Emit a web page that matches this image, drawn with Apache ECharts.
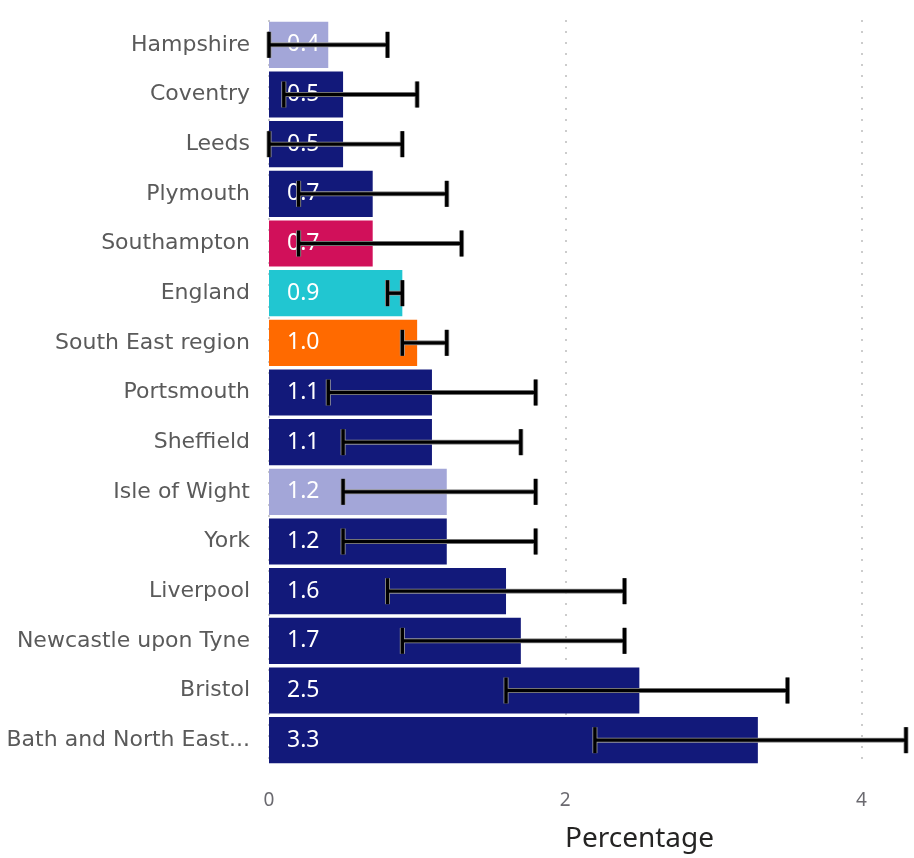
<!DOCTYPE html>
<html><head><meta charset="utf-8">
<script src="https://cdn.jsdelivr.net/npm/echarts@6/dist/echarts.min.js"></script>
<style>html,body{margin:0;padding:0;background:#fff}#c{width:914px;height:858px}</style>
</head><body><div id="c"></div>
<script>
const categories = ["Hampshire","Coventry","Leeds","Plymouth","Southampton","England","South East region","Portsmouth","Sheffield","Isle of Wight","York","Liverpool","Newcastle upon Tyne","Bristol","Bath and North East..."];
const values = [0.4,0.5,0.5,0.7,0.7,0.9,1.0,1.1,1.1,1.2,1.2,1.6,1.7,2.5,3.3];
const lower  = [0.0,0.1,0.0,0.2,0.2,0.8,0.9,0.4,0.5,0.5,0.5,0.8,0.9,1.6,2.2];
const upper  = [0.8,1.0,0.9,1.2,1.3,0.9,1.2,1.8,1.7,1.8,1.8,2.4,2.4,3.5,4.3];
const barColors = ["#a3a6d8","#12197a","#12197a","#12197a","#d1105a","#21c6d1","#ff6a00","#12197a","#12197a","#a3a6d8","#12197a","#12197a","#12197a","#12197a","#12197a"];
const xTicks = [0,2,4];

const chart = echarts.init(document.getElementById('c'));
chart.setOption({
  animation:false,
  grid:{left:269,right:8,top:20,height:746},
  xAxis:{type:'value',min:0,max:4.3,interval:2,
    axisLine:{show:false},axisTick:{show:false},
    axisLabel:{color:'#6b6a70',fontSize:19,fontFamily:'Noto Sans',margin:26,
      formatter:v=>xTicks.includes(v)?String(v):''},
    splitLine:{show:false},
    name:'Percentage',nameLocation:'middle',nameGap:60,
    nameTextStyle:{fontSize:28,color:'#252423',fontFamily:'Noto Sans',padding:[0,0,0,104]}},
  yAxis:{type:'category',data:categories,inverse:true,
    axisLine:{show:false},axisTick:{show:false},
    axisLabel:{color:'#5a5a5a',fontSize:22,fontFamily:'DejaVu Sans',margin:19}},
  series:[
    {type:'bar',barCategoryGap:'7%',
      data:values.map((v,i)=>({value:v,itemStyle:{color:barColors[i]}})),
      label:{show:true,position:'insideLeft',distance:18,color:'#fff',fontSize:23,fontFamily:'Noto Sans',
        formatter:p=>p.value.toFixed(1)},
      markLine:{silent:true,symbol:'none',label:{show:false},z:0,
        lineStyle:{type:[2,9],color:'#cccccc',width:2},
        data:xTicks.map(t=>({xAxis:t}))}},
    {type:'custom',data:categories.map((c,i)=>[i,lower[i],upper[i]]),z:10,
      renderItem:(params,api)=>{
        const i=api.value(0);
        const a=api.coord([api.value(1),i]);
        const b=api.coord([api.value(2),i]);
        const h=13;
        const under={stroke:'#9a9a9a',lineWidth:5};
        const st={stroke:'#000',lineWidth:3.4};
        const segs=[[a[0],a[1],b[0],b[1]],[a[0],a[1]-h,a[0],a[1]+h],[b[0],b[1]-h,b[0],b[1]+h]];
        const ch=[];
        segs.forEach(s=>ch.push({type:'line',shape:{x1:s[0],y1:s[1],x2:s[2],y2:s[3]},style:under}));
        segs.forEach(s=>ch.push({type:'line',shape:{x1:s[0],y1:s[1],x2:s[2],y2:s[3]},style:st}));
        return {type:'group',children:ch};
      }}
  ]
});
</script></body></html>
